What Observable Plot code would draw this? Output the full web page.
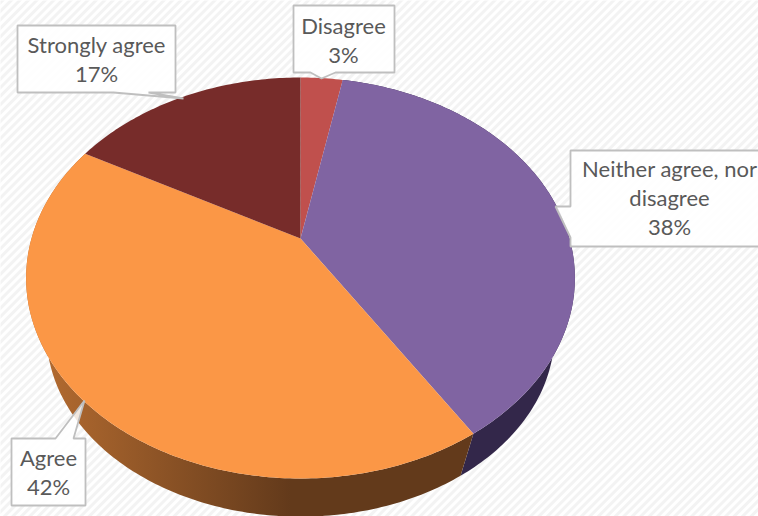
<!DOCTYPE html>
<html>
<head>
<meta charset="utf-8">
<script src="https://cdn.jsdelivr.net/npm/d3@7"></script>
<script src="https://cdn.jsdelivr.net/npm/@observablehq/plot@0.6"></script>
<style>
  html, body { margin: 0; padding: 0; background: #fff; overflow: hidden; }
  svg { display: block; }
</style>
</head>
<body>
<div id="chart"></div>
<script>
// Survey answers, clockwise from twelve o'clock
const answers = ["Disagree", "Neither agree, nor disagree", "Agree", "Strongly agree"];
const shares = [3, 38, 42, 17];
const faceColors = ["#C0504D", "#8064A2", "#FB9746", "#772C2A"];

// Callout text, split over lines
const calloutLines = [
  ["Disagree", "3%"],
  ["Neither agree, nor", "disagree", "38%"],
  ["Agree", "42%"],
  ["Strongly agree", "17%"]
];
const calloutCenterX = [343, 669, 48, 96];
const calloutFirstLineY = [26, 169, 458, 45];
const calloutOutlines = [
  [[293,5],[394,5],[394,72],[335,72],[321,78],[310,72],[293,72]],
  [[570,150],[800,150],[800,246],[570,246],[570,237],[555,206],[570,206]],
  [[11,438],[55,438],[84,400],[73,438],[85,438],[85,505],[11,505]],
  [[17,25],[175,25],[175,92],[148,92],[183,98],[113,92],[17,92]]
];

// Perspective view of the disc: rim of the top face and rim of the underside
const topRim = {x0: 300, y0: 238, a: 269, b: 192.7, k: 0.197};
const lowRim = {x0: 300, y0: 297, a: 249, b: 176, k: 0.197};

function project(rim, share, radius = 1) {
  const t = share / 100 * 2 * Math.PI;
  const u = radius * Math.sin(t), v = radius * Math.cos(t);
  const d = 1 + rim.k * v;
  return {x: rim.x0 + rim.a * u / d, y: rim.y0 - rim.b * v / d};
}
function arc(rim, from, to) {
  const n = Math.max(2, Math.ceil(Math.abs(to - from) * 4));
  return d3.range(n + 1).map(i => project(rim, from + (to - from) * i / n));
}

const ends = Array.from(d3.cumsum(shares));
const starts = ends.map((e, i) => e - shares[i]);

const faces = answers.flatMap((name, i) =>
  [project(topRim, 0, 0), ...arc(topRim, starts[i], ends[i])].map(p => ({...p, name})));
const wall = i => [...arc(topRim, starts[i], ends[i]), ...arc(lowRim, ends[i], starts[i])];
const underside = arc(lowRim, 0, 100).map(p => ({x: p.x, y: p.y + 3}));
const callouts = calloutOutlines.flatMap((pts, i) => pts.map(([x, y]) => ({x, y, i})));
const texts = calloutLines.flatMap((lines, i) =>
  lines.map((text, j) => ({text, x: calloutCenterX[i], y: calloutFirstLineY[i] + j * 29.3})));

const plot = Plot.plot({
  width: 758, height: 516,
  margin: 0,
  x: {domain: [0, 758], range: [0, 758], axis: null},
  y: {domain: [0, 516], range: [0, 516], axis: null},
  color: {domain: answers, range: faceColors},
  style: {background: "#fff"},
  marks: [
    Plot.frame({fill: "url(#hatch)", stroke: "none"}),
    Plot.line(underside, {x: "x", y: "y", fill: "#6e6e6e", fillOpacity: 0.75, stroke: "none", ariaLabel: "shadow"}),
    Plot.line(wall(1), {x: "x", y: "y", fill: "#33274A", stroke: "none"}),
    Plot.line(wall(2), {x: "x", y: "y", fill: "url(#agreeWall)", stroke: "none"}),
    Plot.line(faces, {x: "x", y: "y", fill: "name", z: "name", stroke: "none"}),
    Plot.line(callouts, {x: "x", y: "y", z: "i", fill: "#fff", fillOpacity: 0.85, stroke: "#BFBFBF", strokeWidth: 1.8, strokeLinejoin: "miter", curve: "linear-closed"}),
    Plot.text(texts, {x: "x", y: "y", text: "text", fontFamily: "Lato", fontSize: 22, fill: "#595959", textAnchor: "middle", lineAnchor: "middle"})
  ]
});

// Paint servers and the soft shadow used by the marks above
const defs = d3.select(plot).insert("defs", ":first-child");
const hatch = defs.append("pattern").attr("id", "hatch")
  .attr("patternUnits", "userSpaceOnUse").attr("width", 6).attr("height", 6)
  .attr("patternTransform", "rotate(45)");
hatch.append("rect").attr("width", 6).attr("height", 6).attr("fill", "#fff");
hatch.append("rect").attr("width", 3).attr("height", 6).attr("fill", "#F3F3F3");
const grad = defs.append("linearGradient").attr("id", "agreeWall")
  .attr("gradientUnits", "userSpaceOnUse").attr("x1", 50).attr("x2", 290).attr("y1", 0).attr("y2", 0);
grad.append("stop").attr("offset", 0).attr("stop-color", "#B0692F");
grad.append("stop").attr("offset", 1).attr("stop-color", "#633A1B");
defs.append("filter").attr("id", "blur").attr("x", "-5%").attr("y", "-5%").attr("width", "110%").attr("height", "110%")
  .append("feGaussianBlur").attr("stdDeviation", 4);
d3.select(plot).select('[aria-label="shadow"]').attr("filter", "url(#blur)");

document.getElementById("chart").append(plot);
</script>
</body>
</html>
